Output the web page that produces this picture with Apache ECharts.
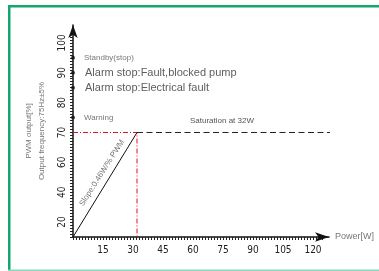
<!DOCTYPE html>
<html><head><meta charset="utf-8">
<script src="https://cdn.jsdelivr.net/npm/echarts@6/dist/echarts.min.js"></script>
<style>html,body{margin:0;padding:0;background:#fff}#c{width:379px;height:271px}</style>
</head><body><div id="c"></div>
<script>
// ---- data ----
const xTickLabels = [15, 30, 45, 60, 75, 90, 105, 120];
const yTickLabels = [20, 40, 60, 70, 80, 90, 100];
const rampPower = [0, 32];
const rampPwm = [10, 70];
const satPower = [32, 130];
const satPwm = [70, 70];
const satGuidePower = [0, 32, 32];
const satGuidePwm = [70, 70, 10];
const statusLevels = [95, 90, 85, 75];
const statusTexts = ['Standby(stop)', 'Alarm stop:Fault,blocked pump', 'Alarm stop:Electrical fault', 'Warning'];
const statusBig = [false, true, true, false];

// piecewise display scale (lower part compressed in the original)
function d(v) { return v >= 60 ? v : 60 - (60 - v) / 2; }
function inv(t) { return t >= 60 ? t : 60 - (60 - t) * 2; }

const font = "'Liberation Sans Narrow','DejaVu Sans Condensed',sans-serif";
const xMinor = []; for (let v = 0; v <= 124.5; v += 1.5) xMinor.push(+v.toFixed(2));
const yMinor = []; for (let v = 35; v <= 103; v += 1) yMinor.push(v);

const chart = echarts.init(document.getElementById('c'));
chart.setOption({
  animation: false,
  grid: { left: 73, right: 50, top: 25, bottom: 34 },
  xAxis: {
    type: 'value', min: 0, max: 128,
    splitLine: { show: false },
    axisLine: { lineStyle: { color: '#111', width: 1.5 }, symbol: ['none', 'arrow'], symbolSize: [7, 14] },
    axisTick: { customValues: xMinor, length: 3, lineStyle: { color: '#222', width: 1 } },
    axisLabel: { customValues: xTickLabels, margin: 8, fontSize: 10, color: '#222', fontFamily: font },
    name: 'Power[W]', nameLocation: 'end', nameGap: 6,
    nameTextStyle: { fontSize: 9, color: '#777', fontFamily: 'Liberation Sans, sans-serif' }
  },
  yAxis: {
    type: 'value', min: d(10), max: 106,
    splitLine: { show: false },
    axisLine: { lineStyle: { color: '#111', width: 1.5 }, symbol: ['none', 'arrow'], symbolSize: [7, 13] },
    axisTick: { customValues: yMinor, length: 3, lineStyle: { color: '#222', width: 1 } },
    axisLabel: { customValues: yTickLabels.map(d), rotate: 90, margin: 6, fontSize: 10, color: '#222', fontFamily: font,
      formatter: v => String(Math.round(inv(v))) },
    name: 'PWM output[%]\nOutput frequency:75Hz±5%', nameLocation: 'middle', nameRotate: 90, nameGap: 25,
    nameTextStyle: { fontSize: 8, color: '#777', lineHeight: 13, fontFamily: 'Liberation Sans, sans-serif' }
  },
  series: [
    { type: 'line', symbol: 'none', silent: true,
      data: satGuidePower.map((p, i) => [p, d(satGuidePwm[i])]),
      lineStyle: { color: '#e0102a', width: 1, type: [5, 2, 1, 2] } },
    { type: 'line', symbol: 'none', silent: true,
      data: rampPower.map((p, i) => [p, d(rampPwm[i])]),
      lineStyle: { color: '#111', width: 1 } },
    { type: 'line', symbol: 'none', silent: true, clip: false,
      data: satPower.map((p, i) => [p, d(satPwm[i])]),
      lineStyle: { color: '#222', width: 1, type: [6, 3.5] } },
    { type: 'scatter', symbolSize: 4, itemStyle: { color: '#111' }, clip: false,
      data: statusLevels.map((v, i) => ({
        value: [0, d(v)],
        label: { show: true, position: 'right', distance: statusBig[i] ? 10 : 9,
          formatter: statusTexts[i], fontSize: statusBig[i] ? 11 : 8,
          color: statusBig[i] ? '#333' : '#555', fontFamily: 'Liberation Sans, sans-serif' }
      })) }
  ]
});

function px(p, v) { return chart.convertToPixel({ gridIndex: 0 }, [p, d(v)]); }
const slopePos = px(14.5, 53);
const satPos = px(74.5, 74);
chart.setOption({
  graphic: [
    { type: 'rect', shape: { x: 8, y: 5, width: 371, height: 2.5 }, style: { fill: '#13a66e' } },
    { type: 'rect', shape: { x: 8, y: 5, width: 2.5, height: 266 }, style: { fill: '#13a66e' } },
    { type: 'rect', shape: { x: 8, y: 269.5, width: 371, height: 1.5 }, style: { fill: '#8ad8bb' } },
    { type: 'text', x: slopePos[0], y: slopePos[1], rotation: 57.5 * Math.PI / 180,
      style: { text: 'Slope:0.46W/% PWM', fontSize: 8, fill: '#777', align: 'center', verticalAlign: 'middle', fontFamily: 'Liberation Sans, sans-serif' } },
    { type: 'text', x: satPos[0], y: satPos[1],
      style: { text: 'Saturation at 32W', fontSize: 8, fill: '#555', align: 'center', verticalAlign: 'middle', fontFamily: 'Liberation Sans, sans-serif' } }
  ]
});
</script></body></html>
